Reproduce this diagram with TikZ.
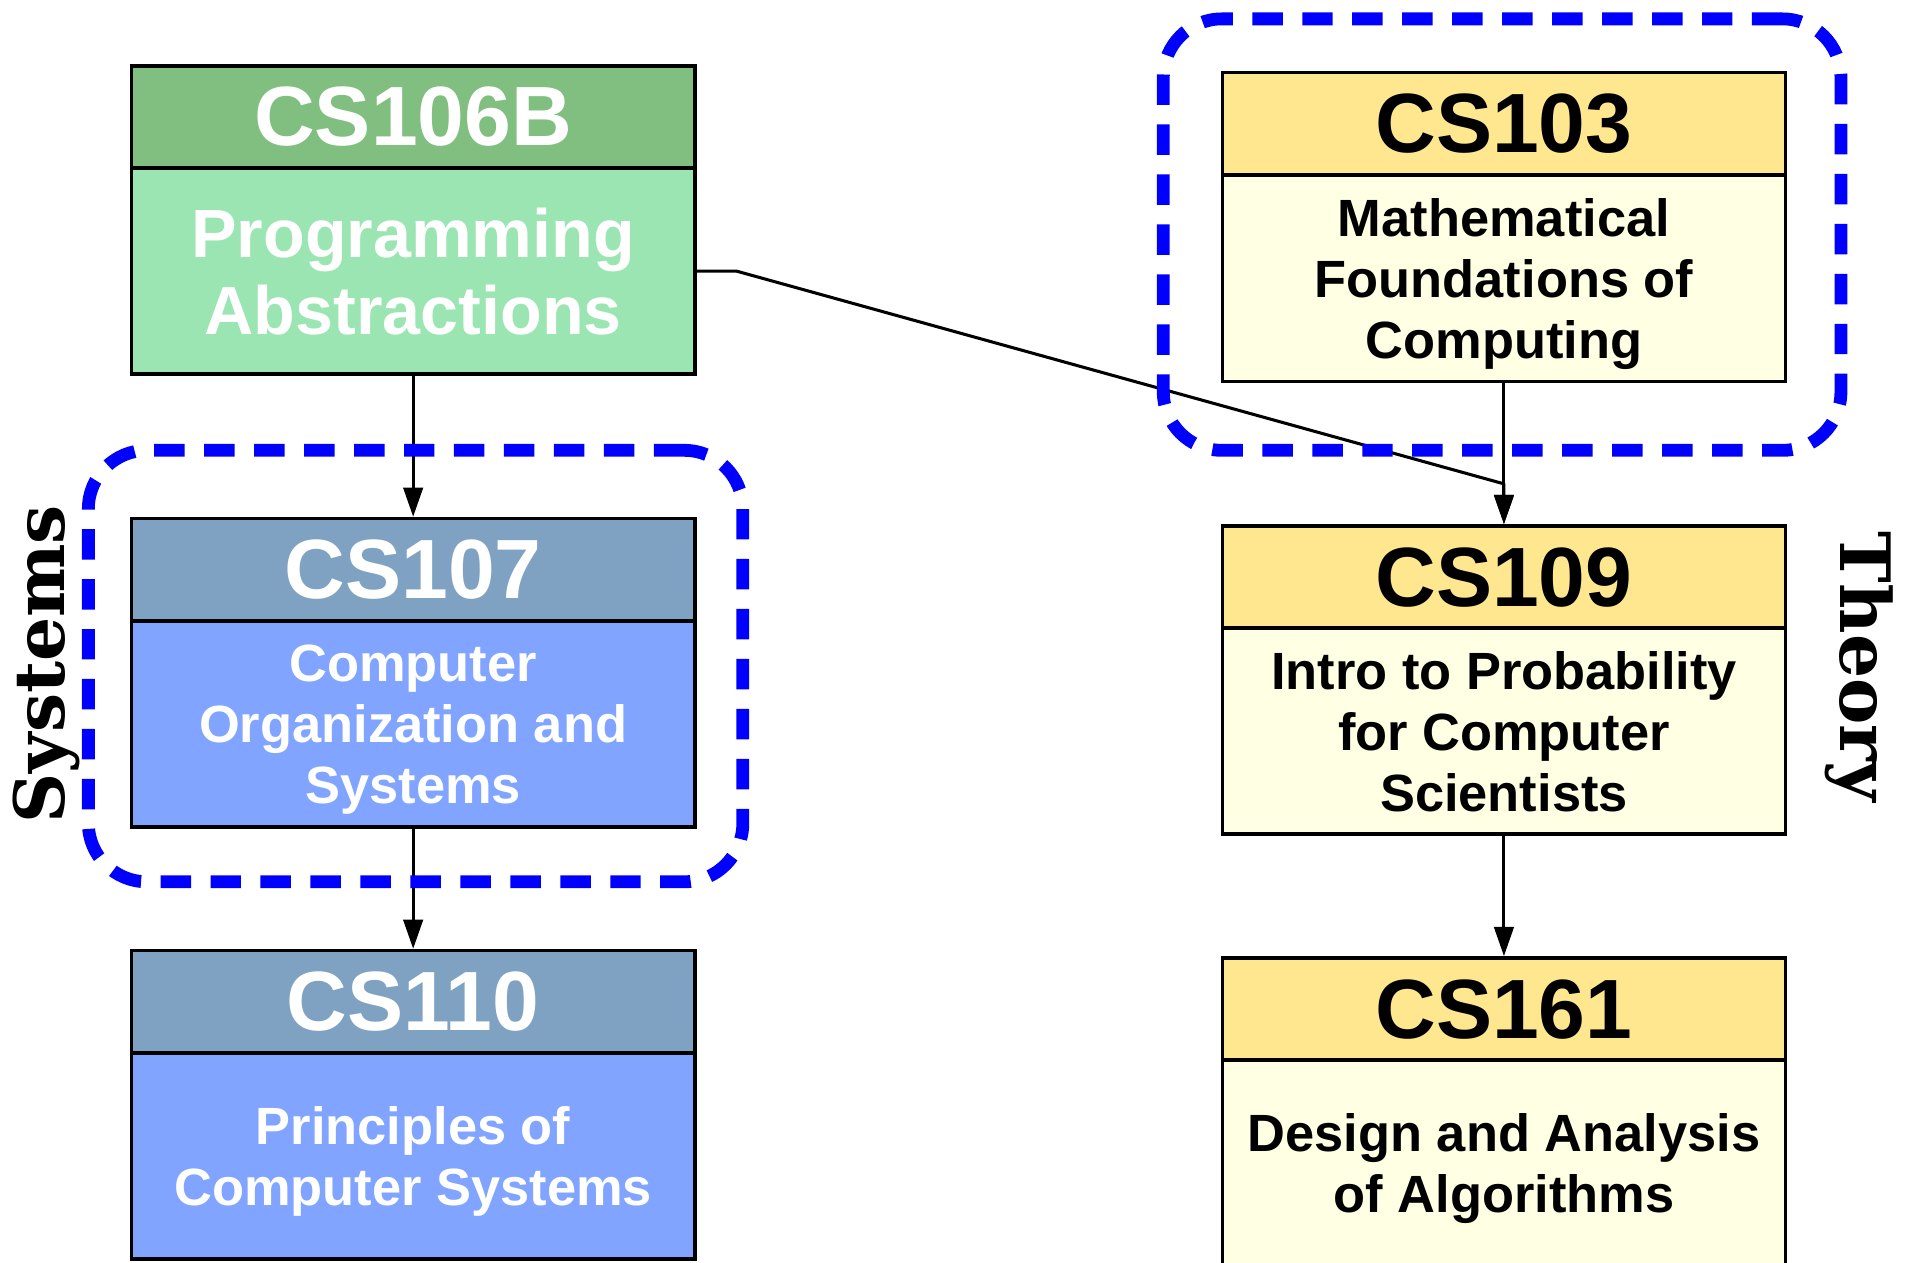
\documentclass[tikz,border=0pt]{standalone}
\usepackage{fontspec}
\setmainfont{Liberation Sans}
\newfontfamily\labelfont{DejaVu Serif}
\usetikzlibrary{arrows.meta}
\definecolor{greenH}{RGB}{128,191,128}
\definecolor{greenB}{RGB}{154,229,178}
\definecolor{blueH}{RGB}{128,162,194}
\definecolor{blueB}{RGB}{128,164,255}
\definecolor{yelH}{RGB}{255,231,143}
\definecolor{yelB}{RGB}{255,255,228}
\begin{document}
\begin{tikzpicture}[x=1pt,y=-1pt,
 hdr/.style={draw=black, line width=3pt, minimum width=462pt, minimum height=84pt, inner sep=0pt, font=\fontsize{69}{80}\selectfont\bfseries},
 bdy/.style={draw=black, line width=3pt, minimum width=462pt, minimum height=169pt, inner sep=0pt, align=center, text depth=0pt, font=\fontsize{43}{50}\selectfont\bfseries},
 grp/.style={draw=blue, line width=10.5pt, dash pattern=on 25pt off 16pt, rounded corners=48pt, rectangle, inner sep=0pt, outer sep=0pt},
 conn/.style={draw=black, line width=2.5pt, -{Triangle[length=24pt,width=16pt]}},
 side/.style={font=\labelfont\fontsize{57}{60}\selectfont\bfseries}
]
\useasboundingbox (0,0) rectangle (1568,1036);
\fill[white] (0,0) rectangle (1568,1036);

% left column
\node[hdr, fill=greenH, text=white] (h106) at (339,96) {CS106B};
\node[bdy, fill=greenB, text=white, font=\fontsize{56}{63}\selectfont\bfseries] (b106) at (339,222.5) {Programming\\Abstractions};
\node[hdr, fill=blueH, text=white] (h107) at (339,467.5) {CS107};
\node[bdy, fill=blueB, text=white] (b107) at (339,594) {Computer\\Organization and\\Systems};
\node[hdr, fill=blueH, text=white] (h110) at (339,822) {CS110};
\node[bdy, fill=blueB, text=white] (b110) at (339,948.5) {Principles of\\Computer Systems};

% right column
\node[hdr, fill=yelH] (h103) at (1234,101.5) {CS103};
\node[bdy, fill=yelB] (b103) at (1234,228.5) {Mathematical\\Foundations of\\Computing};
\node[hdr, fill=yelH] (h109) at (1234,473.5) {CS109};
\node[bdy, fill=yelB] (b109) at (1234,600) {Intro to Probability\\for Computer\\Scientists};
\node[hdr, fill=yelH] (h161) at (1234,828) {CS161};
\node[bdy, fill=yelB] (b161) at (1234,954.5) {Design and Analysis\\of Algorithms};

% connectors
\coordinate (jn) at (1234,397);
\draw[conn] (b106.south) -- (h107.north);
\draw[conn] (b107.south) -- (h110.north);
\draw[conn] (b103.south) -- (h109.north);
\draw[conn] (b109.south) -- (h161.north);
\draw[conn, line join=round] (b106.east) -- ++(33,0) -- (jn) -- (h109.north);

% groups
\node[grp, minimum width=537pt, minimum height=354pt] (gsys) at (341,546.5) {};
\node[grp, minimum width=556pt, minimum height=354pt] (gthy) at (1232.5,192.5) {};

% side labels
\node[side, rotate=90, anchor=base] (lsys) at (53,545) {Systems};
\node[side, rotate=-90, anchor=base] (lthy) at (1510,547) {Theory};
\end{tikzpicture}
\end{document}
